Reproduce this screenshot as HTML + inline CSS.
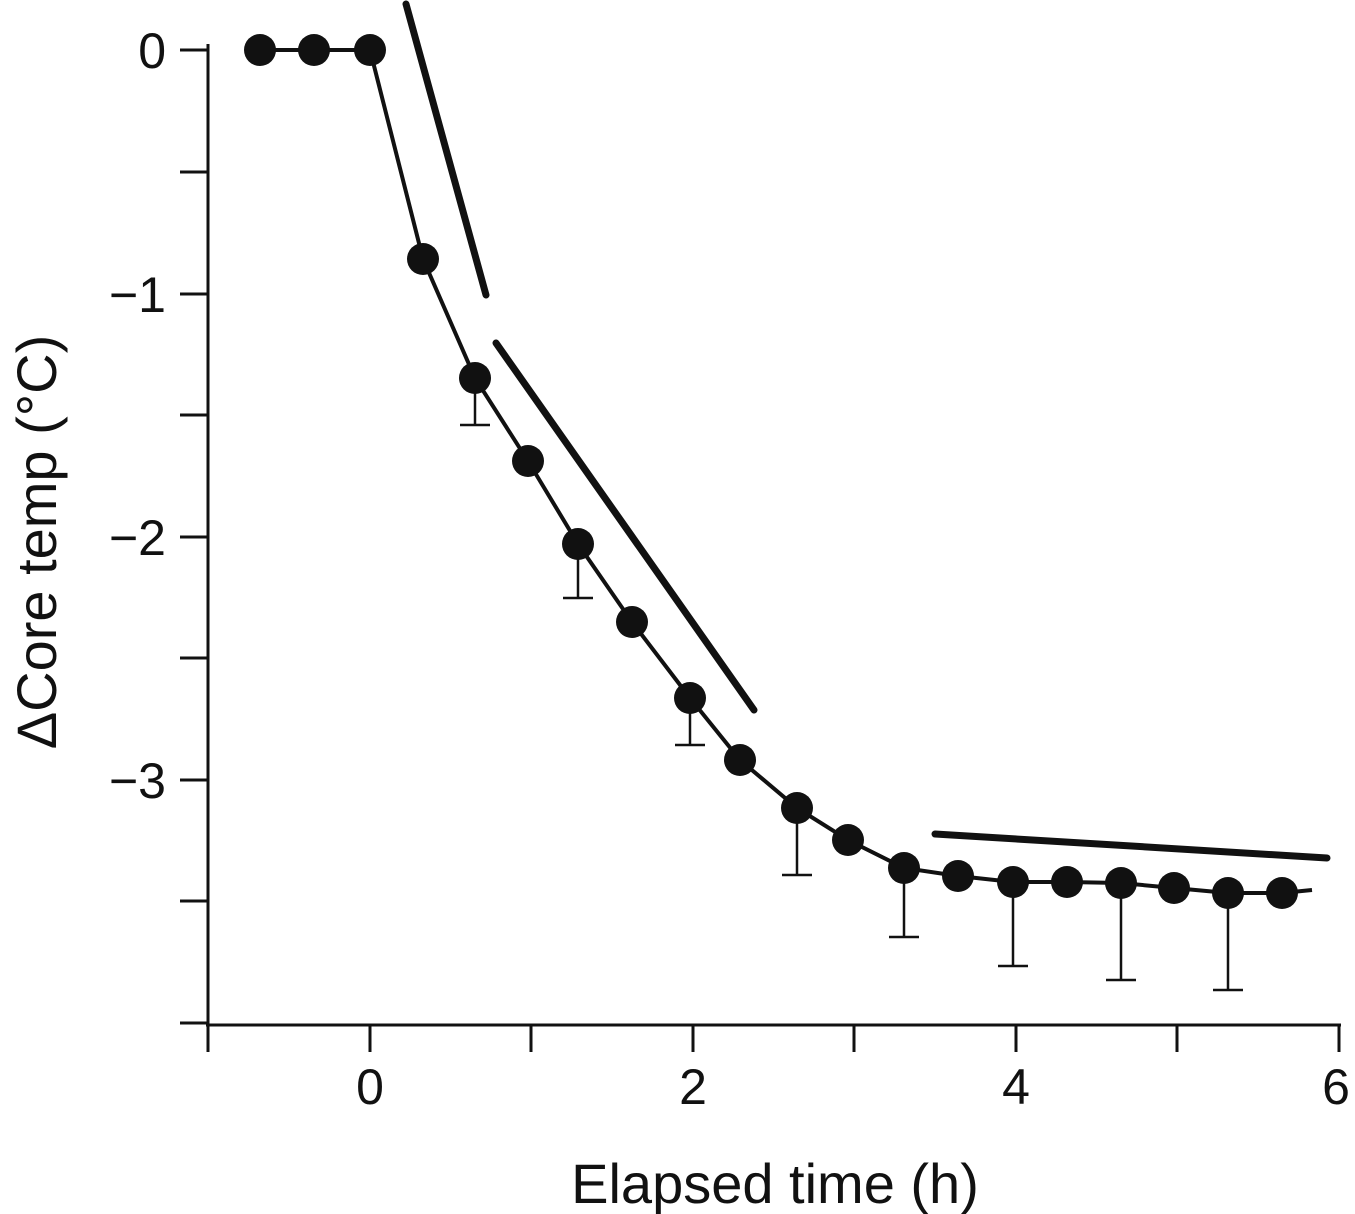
<!DOCTYPE html>
<html><head><meta charset="utf-8"><style>
html,body{margin:0;padding:0;background:#fff;}
svg{display:block;}
text{font-family:"Liberation Sans",sans-serif;fill:#111;}
</style></head><body>
<svg width="1355" height="1214" viewBox="0 0 1355 1214" xmlns="http://www.w3.org/2000/svg">
<g stroke="#111" stroke-width="3" fill="none">
<line x1="208" y1="44" x2="208" y2="1025"/>
<line x1="206" y1="1025" x2="1341" y2="1025"/>
<line x1="180" y1="50" x2="208" y2="50"/>
<line x1="180" y1="172" x2="208" y2="172"/>
<line x1="180" y1="294" x2="208" y2="294"/>
<line x1="180" y1="415" x2="208" y2="415"/>
<line x1="180" y1="537" x2="208" y2="537"/>
<line x1="180" y1="658" x2="208" y2="658"/>
<line x1="180" y1="780" x2="208" y2="780"/>
<line x1="180" y1="901" x2="208" y2="901"/>
<line x1="180" y1="1023" x2="208" y2="1023"/>
<line x1="208" y1="1025" x2="208" y2="1052"/>
<line x1="370" y1="1025" x2="370" y2="1052"/>
<line x1="531" y1="1025" x2="531" y2="1052"/>
<line x1="693" y1="1025" x2="693" y2="1052"/>
<line x1="854" y1="1025" x2="854" y2="1052"/>
<line x1="1016" y1="1025" x2="1016" y2="1052"/>
<line x1="1177" y1="1025" x2="1177" y2="1052"/>
<line x1="1339" y1="1025" x2="1339" y2="1052"/>
</g>
<g stroke="#111" stroke-width="2.5">
<line x1="475" y1="378" x2="475" y2="425"/><line x1="460" y1="425" x2="490" y2="425"/>
<line x1="578" y1="544" x2="578" y2="598"/><line x1="563" y1="598" x2="593" y2="598"/>
<line x1="690" y1="698" x2="690" y2="745"/><line x1="675" y1="745" x2="705" y2="745"/>
<line x1="797" y1="808" x2="797" y2="875"/><line x1="782" y1="875" x2="812" y2="875"/>
<line x1="904" y1="868" x2="904" y2="937"/><line x1="889" y1="937" x2="919" y2="937"/>
<line x1="1013" y1="882" x2="1013" y2="966"/><line x1="998" y1="966" x2="1028" y2="966"/>
<line x1="1121" y1="883" x2="1121" y2="980"/><line x1="1106" y1="980" x2="1136" y2="980"/>
<line x1="1228" y1="893" x2="1228" y2="990"/><line x1="1213" y1="990" x2="1243" y2="990"/>
</g>
<polyline fill="none" stroke="#111" stroke-width="4" points="260,50 314,50 370,50 423,259 475,378 528,461 578,544 632,622 690,698 740,760 797,808 848,840 904,868 958,876 1013,882 1067,882 1121,883 1174,888 1228,893 1282,893 1312,890"/>
<g fill="#111">
<circle cx="260" cy="50" r="16"/><circle cx="314" cy="50" r="16"/><circle cx="370" cy="50" r="16"/>
<circle cx="423" cy="259" r="16"/><circle cx="475" cy="378" r="16"/><circle cx="528" cy="461" r="16"/>
<circle cx="578" cy="544" r="16"/><circle cx="632" cy="622" r="16"/><circle cx="690" cy="698" r="16"/>
<circle cx="740" cy="760" r="16"/><circle cx="797" cy="808" r="16"/><circle cx="848" cy="840" r="16"/>
<circle cx="904" cy="868" r="16"/><circle cx="958" cy="876" r="16"/><circle cx="1013" cy="882" r="16"/>
<circle cx="1067" cy="882" r="16"/><circle cx="1121" cy="883" r="16"/><circle cx="1174" cy="888" r="16"/>
<circle cx="1228" cy="893" r="16"/><circle cx="1282" cy="893" r="16"/>
</g>
<g stroke="#111" stroke-width="7" stroke-linecap="round">
<line x1="406" y1="4" x2="486" y2="295"/>
<line x1="496" y1="343" x2="754" y2="710"/>
<line x1="935" y1="834" x2="1327" y2="858"/>
</g>
<g font-size="50" text-anchor="end">
<text x="166" y="68">0</text>
<text x="166" y="312">−1</text>
<text x="166" y="555">−2</text>
<text x="166" y="798">−3</text>
</g>
<g font-size="50" text-anchor="middle">
<text x="370" y="1104">0</text>
<text x="693" y="1104">2</text>
<text x="1016" y="1104">4</text>
<text x="1336" y="1104">6</text>
</g>
<text x="775" y="1203" font-size="56" text-anchor="middle">Elapsed time (h)</text>
<text transform="translate(56,542) rotate(-90)" font-size="56" text-anchor="middle">ΔCore temp (°C)</text>
</svg>
</body></html>
